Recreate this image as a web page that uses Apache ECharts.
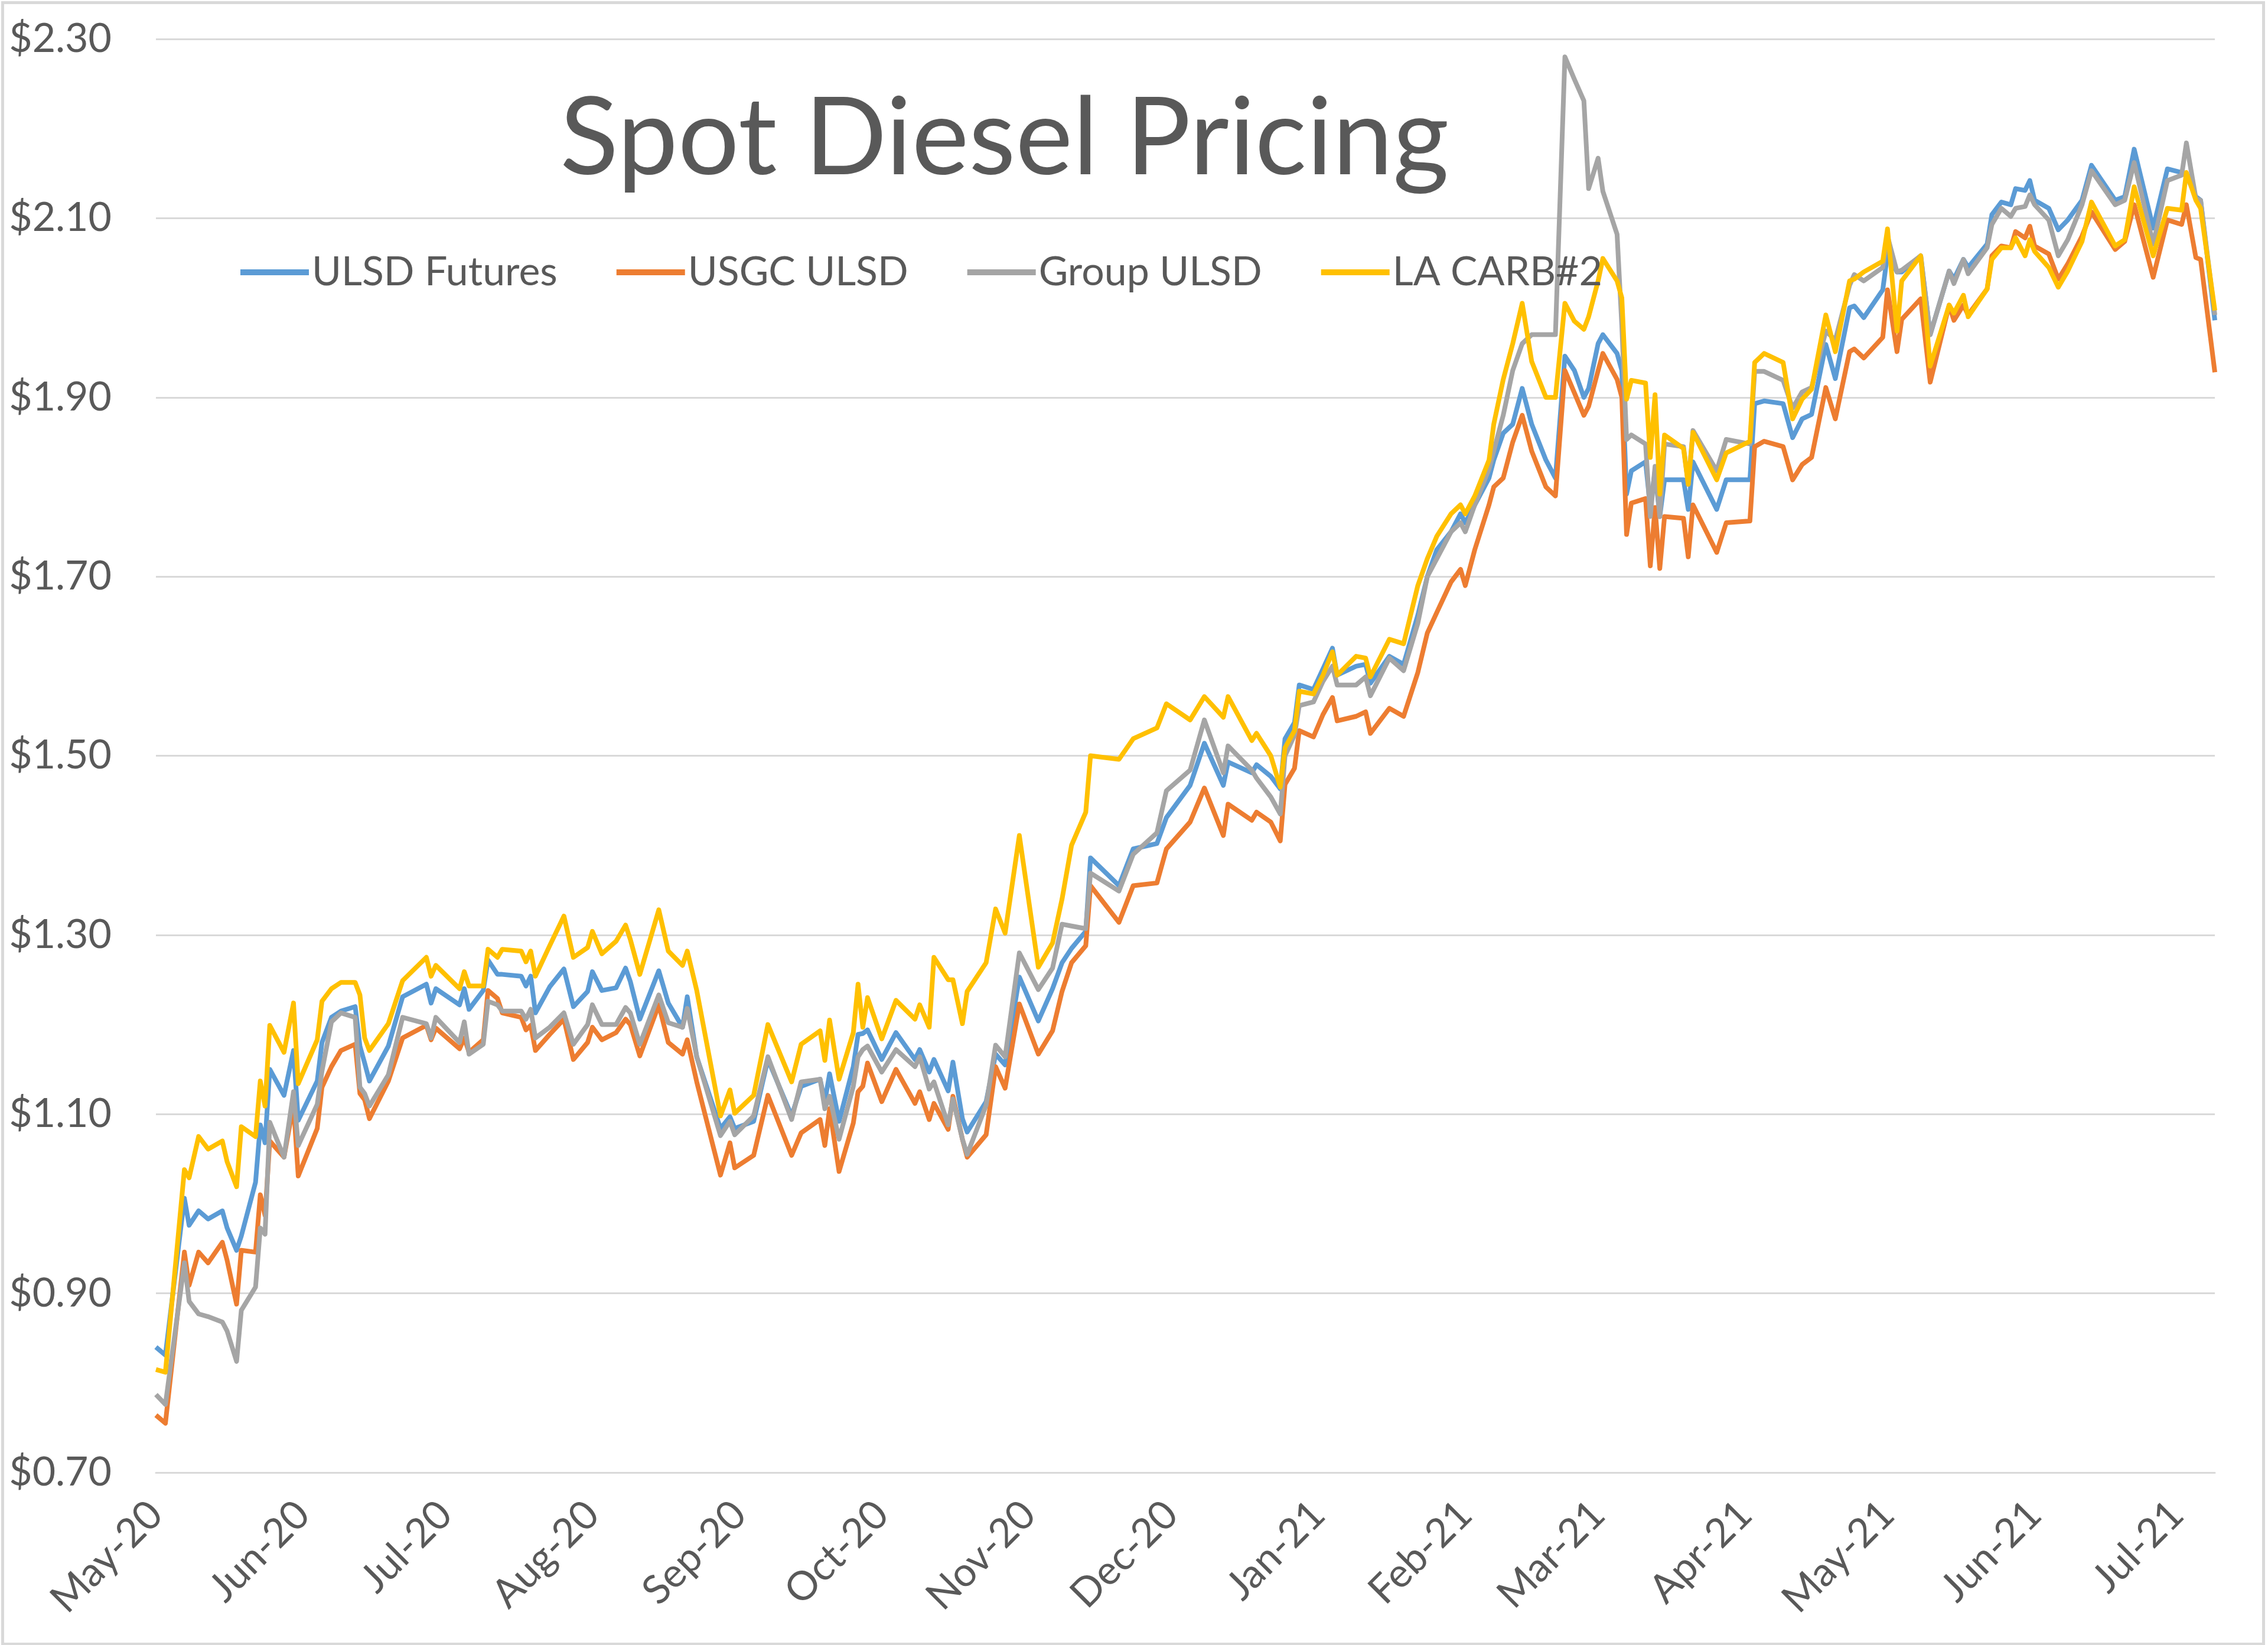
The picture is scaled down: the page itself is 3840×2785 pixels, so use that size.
<!DOCTYPE html>
<html><head><meta charset="utf-8">
<script src="https://cdn.jsdelivr.net/npm/echarts@6/dist/echarts.min.js"></script>
<style>html,body{margin:0;padding:0;background:#fff}#c{width:3840px;height:2785px}</style>
</head><body><div id="c"></div>
<script>
const dates = [
'2020-05-01','2020-05-03','2020-05-07','2020-05-08','2020-05-10','2020-05-12','2020-05-15','2020-05-16','2020-05-18','2020-05-19','2020-05-22','2020-05-23','2020-05-24','2020-05-25','2020-05-28','2020-05-30','2020-05-31','2020-06-04','2020-06-05','2020-06-07','2020-06-09','2020-06-12','2020-06-13','2020-06-14','2020-06-15','2020-06-19','2020-06-22','2020-06-27','2020-06-28','2020-06-29','2020-07-04','2020-07-05','2020-07-06','2020-07-09','2020-07-10','2020-07-12','2020-07-13','2020-07-17','2020-07-18','2020-07-19','2020-07-20',
'2020-07-23','2020-07-26','2020-07-28','2020-07-31','2020-08-01','2020-08-03','2020-08-06','2020-08-08','2020-08-09','2020-08-11','2020-08-15','2020-08-17','2020-08-20','2020-08-21','2020-08-23','2020-08-28','2020-08-30','2020-08-31','2020-09-04','2020-09-07','2020-09-12','2020-09-14','2020-09-18','2020-09-19','2020-09-20','2020-09-22','2020-09-25','2020-09-26','2020-09-27','2020-09-28','2020-10-01','2020-10-04','2020-10-08','2020-10-09','2020-10-11','2020-10-12',
'2020-10-15','2020-10-16','2020-10-18','2020-10-19','2020-10-23','2020-10-25','2020-10-27','2020-10-30','2020-11-03','2020-11-06','2020-11-08','2020-11-10','2020-11-13','2020-11-14','2020-11-20','2020-11-23','2020-11-28','2020-11-30','2020-12-05','2020-12-08','2020-12-12','2020-12-13','2020-12-18','2020-12-19','2020-12-22','2020-12-24','2020-12-25','2020-12-27','2020-12-28','2020-12-31','2021-01-02','2021-01-04','2021-01-05','2021-01-09','2021-01-11','2021-01-12','2021-01-16','2021-01-19','2021-01-22','2021-01-24','2021-01-26','2021-01-29','2021-01-31','2021-02-01','2021-02-03','2021-02-06','2021-02-07','2021-02-09','2021-02-11','2021-02-13','2021-02-15','2021-02-18','2021-02-20','2021-02-22','2021-02-24','2021-02-26','2021-02-27','2021-03-01','2021-03-02','2021-03-05','2021-03-06',
'2021-03-07','2021-03-08','2021-03-11','2021-03-12','2021-03-13','2021-03-14','2021-03-15','2021-03-19','2021-03-20','2021-03-21','2021-03-26','2021-03-28','2021-04-02','2021-04-03','2021-04-05','2021-04-09','2021-04-11','2021-04-13','2021-04-15','2021-04-18','2021-04-20','2021-04-23','2021-04-24','2021-04-26','2021-04-30','2021-05-01','2021-05-03','2021-05-04',
'2021-05-08','2021-05-10','2021-05-14','2021-05-15','2021-05-17','2021-05-18','2021-05-22','2021-05-23','2021-05-25','2021-05-27','2021-05-28','2021-05-30','2021-05-31','2021-06-01','2021-06-04','2021-06-06','2021-06-08','2021-06-11','2021-06-13','2021-06-18','2021-06-20','2021-06-22','2021-06-26','2021-06-29','2021-07-02','2021-07-03','2021-07-05','2021-07-06','2021-07-09'
];
const ulsdFutures = [
0.840,0.831,1.006,0.976,0.992,0.983,0.992,0.973,0.948,0.964,1.024,1.088,1.068,1.150,1.121,1.171,1.093,1.137,1.180,1.208,1.215,1.220,1.176,1.157,1.137,1.176,1.231,1.245,1.224,1.240,1.222,1.240,1.217,1.238,1.272,1.256,1.256,1.254,1.243,1.254,1.213,
1.242,1.262,1.220,1.237,1.259,1.238,1.241,1.263,1.248,1.206,1.260,1.224,1.197,1.231,1.164,1.084,1.097,1.084,1.092,1.161,1.098,1.131,1.139,1.114,1.145,1.092,1.153,1.189,1.190,1.194,1.161,1.191,1.161,1.172,1.147,1.161,
1.126,1.158,1.095,1.080,1.114,1.167,1.155,1.253,1.204,1.240,1.269,1.285,1.304,1.386,1.355,1.396,1.402,1.431,1.467,1.514,1.467,1.493,1.481,1.490,1.477,1.463,1.519,1.537,1.579,1.574,1.597,1.620,1.590,1.600,1.602,1.581,1.611,1.602,1.657,1.700,1.730,1.750,1.770,1.760,1.780,1.810,1.830,1.860,1.870,1.910,1.870,1.830,1.810,1.946,1.930,1.900,1.910,1.960,1.970,1.949,1.930,
1.792,1.818,1.828,1.777,1.818,1.767,1.808,1.808,1.775,1.828,1.775,1.808,1.808,1.893,1.896,1.893,1.855,1.876,1.881,1.959,1.921,2.000,2.002,1.989,2.020,2.060,2.040,2.040,
2.058,1.970,2.041,2.032,2.054,2.045,2.071,2.104,2.118,2.115,2.133,2.131,2.142,2.120,2.111,2.087,2.098,2.120,2.159,2.120,2.124,2.177,2.089,2.155,2.151,2.148,2.124,2.120,1.986
];
const usgcUlsd = [
0.764,0.755,0.946,0.909,0.946,0.934,0.957,0.937,0.888,0.948,0.946,1.010,0.987,1.070,1.052,1.111,1.031,1.084,1.130,1.153,1.171,1.178,1.123,1.116,1.095,1.137,1.185,1.199,1.183,1.196,1.173,1.185,1.169,1.183,1.238,1.229,1.213,1.208,1.194,1.199,1.171,
1.189,1.206,1.161,1.180,1.197,1.183,1.191,1.206,1.200,1.165,1.222,1.180,1.167,1.183,1.136,1.032,1.068,1.040,1.054,1.121,1.054,1.079,1.094,1.065,1.106,1.036,1.090,1.125,1.131,1.157,1.114,1.150,1.112,1.125,1.094,1.112,
1.083,1.120,1.072,1.052,1.077,1.153,1.129,1.223,1.167,1.193,1.237,1.269,1.288,1.355,1.314,1.355,1.358,1.396,1.426,1.464,1.411,1.446,1.428,1.437,1.426,1.405,1.468,1.486,1.528,1.521,1.546,1.565,1.539,1.544,1.549,1.525,1.553,1.544,1.593,1.637,1.660,1.694,1.708,1.690,1.730,1.780,1.800,1.810,1.850,1.880,1.840,1.800,1.790,1.930,1.905,1.880,1.890,1.930,1.949,1.920,1.900,
1.747,1.782,1.787,1.712,1.777,1.709,1.767,1.765,1.722,1.780,1.727,1.760,1.762,1.845,1.851,1.845,1.808,1.825,1.833,1.911,1.876,1.951,1.954,1.944,1.967,2.020,1.951,1.987,
2.010,1.917,2.003,1.986,2.003,1.992,2.021,2.058,2.069,2.067,2.085,2.078,2.091,2.069,2.060,2.032,2.049,2.080,2.107,2.065,2.074,2.115,2.034,2.098,2.093,2.115,2.056,2.054,1.928
];
const groupUlsd = [
0.787,0.776,0.934,0.891,0.877,0.874,0.868,0.858,0.824,0.881,0.907,0.973,0.966,1.091,1.052,1.125,1.065,1.111,1.148,1.203,1.213,1.208,1.130,1.123,1.109,1.144,1.208,1.201,1.185,1.208,1.180,1.203,1.167,1.178,1.226,1.222,1.215,1.215,1.206,1.217,1.185,
1.197,1.213,1.178,1.200,1.222,1.200,1.200,1.219,1.213,1.178,1.233,1.202,1.197,1.218,1.164,1.076,1.092,1.077,1.098,1.164,1.094,1.136,1.139,1.106,1.120,1.072,1.131,1.164,1.172,1.176,1.147,1.172,1.153,1.164,1.128,1.136,
1.088,1.117,1.072,1.055,1.110,1.177,1.164,1.280,1.239,1.263,1.312,1.310,1.307,1.369,1.349,1.390,1.414,1.461,1.484,1.540,1.481,1.511,1.484,1.475,1.454,1.435,1.500,1.523,1.556,1.560,1.583,1.600,1.579,1.579,1.588,1.567,1.609,1.595,1.648,1.700,1.720,1.750,1.760,1.750,1.780,1.820,1.840,1.880,1.930,1.960,1.970,1.970,1.970,2.280,2.255,2.231,2.133,2.167,2.130,2.082,1.980,
1.853,1.858,1.848,1.767,1.823,1.767,1.848,1.845,1.803,1.863,1.818,1.853,1.848,1.929,1.929,1.919,1.888,1.906,1.911,1.974,1.964,2.025,2.037,2.030,2.045,2.080,2.040,2.042,
2.058,1.970,2.041,2.027,2.054,2.038,2.067,2.093,2.111,2.102,2.111,2.113,2.126,2.115,2.098,2.058,2.076,2.115,2.153,2.115,2.120,2.162,2.071,2.142,2.148,2.184,2.122,2.120,1.992
];
const laCarb2 = [
0.815,0.812,1.038,1.029,1.075,1.061,1.070,1.047,1.019,1.086,1.075,1.137,1.109,1.199,1.169,1.224,1.134,1.183,1.226,1.240,1.247,1.247,1.233,1.185,1.171,1.201,1.249,1.275,1.254,1.266,1.240,1.259,1.243,1.243,1.284,1.275,1.284,1.282,1.270,1.282,1.254,
1.288,1.321,1.275,1.286,1.304,1.279,1.293,1.311,1.295,1.256,1.328,1.282,1.266,1.282,1.238,1.098,1.127,1.101,1.121,1.200,1.136,1.178,1.193,1.160,1.205,1.139,1.191,1.245,1.197,1.230,1.184,1.227,1.206,1.222,1.197,1.275,
1.250,1.250,1.201,1.237,1.269,1.329,1.302,1.411,1.264,1.291,1.340,1.400,1.437,1.500,1.496,1.519,1.531,1.558,1.540,1.566,1.543,1.566,1.517,1.525,1.500,1.465,1.509,1.528,1.572,1.569,1.590,1.616,1.590,1.611,1.609,1.588,1.630,1.625,1.690,1.720,1.745,1.770,1.780,1.770,1.790,1.830,1.870,1.920,1.960,2.005,1.940,1.900,1.900,2.005,1.985,1.976,1.990,2.030,2.055,2.030,2.011,
1.898,1.919,1.916,1.833,1.903,1.792,1.858,1.843,1.803,1.861,1.808,1.838,1.851,1.939,1.949,1.939,1.876,1.898,1.909,1.992,1.951,2.030,2.032,2.040,2.052,2.088,1.974,2.030,
2.058,1.935,2.003,1.994,2.014,1.990,2.021,2.054,2.067,2.067,2.078,2.058,2.076,2.063,2.045,2.023,2.041,2.074,2.118,2.069,2.076,2.135,2.058,2.111,2.109,2.151,2.120,2.111,1.997
];
const seriesNames = ['ULSD Futures','USGC ULSD','Group ULSD','LA CARB#2'];
const monthStarts = ['2020-05-01','2020-06-01','2020-07-01','2020-08-01','2020-09-01','2020-10-01','2020-11-01','2020-12-01','2021-01-01','2021-02-01','2021-03-01','2021-04-01','2021-05-01','2021-06-01','2021-07-01'];
const monthLabels = ['May-20','Jun-20','Jul-20','Aug-20','Sep-20','Oct-20','Nov-20','Dec-20','Jan-21','Feb-21','Mar-21','Apr-21','May-21','Jun-21','Jul-21'];
const yTickLabels = ['$0.70','$0.90','$1.10','$1.30','$1.50','$1.70','$1.90','$2.10','$2.30'];

function ts(s){const p=s.split('-').map(Number);return Date.UTC(p[0],p[1]-1,p[2]);}
const monthTs = monthStarts.map(ts);
const labelByTs = {};
monthTs.forEach((t,i)=>{labelByTs[t]=monthLabels[i];});

const colors = ['#5B9BD5','#ED7D31','#A5A5A5','#FFC000'];
const values = [ulsdFutures, usgcUlsd, groupUlsd, laCarb2];
const FONT = 'Lato';
const TXT = '#595959';

const chart = echarts.init(document.getElementById('c'), null, {renderer:'canvas'});
chart.setOption({
  animation:false,
  backgroundColor:'#ffffff',
  color: colors,
  title:{
    text:'Spot Diesel Pricing',
    left:943, top:139,
    textStyle:{fontFamily:FONT,fontSize:183,fontWeight:'normal',color:TXT}
  },
  legend:{
    data: seriesNames.map(n=>({name:n,icon:'rect'})),
    left:402, top:422,
    itemWidth:116, itemHeight:10, itemGap:100,
    textStyle:{fontFamily:FONT,fontSize:68,color:TXT}
  },
  grid:{left:264,right:90,top:66,bottom:292,containLabel:false},
  xAxis:{
    type:'value',
    min: ts(dates[0]), max: ts(dates[dates.length-1]),
    axisLine:{show:true,lineStyle:{color:'#D9D9D9',width:3}},
    axisTick:{show:false},
    splitLine:{show:false},
    axisLabel:{
      customValues: monthTs,
      showMinLabel:true, showMaxLabel:true,
      rotate:45, margin:60,
      fontFamily:FONT,fontSize:68,color:TXT,
      formatter:function(v){return labelByTs[v]!==undefined?labelByTs[v]:'';}
    }
  },
  yAxis:{
    type:'value', min:0.7, max:2.3, interval:0.2,
    axisLine:{show:false}, axisTick:{show:false},
    splitLine:{show:true,lineStyle:{color:'#D9D9D9',width:3}},
    axisLabel:{
      margin:75,fontFamily:FONT,fontSize:68,color:TXT,
      formatter:function(v){const i=Math.round((v-0.7)/0.2);return yTickLabels[i]!==undefined?yTickLabels[i]:'';}
    }
  },
  series: seriesNames.map((name,k)=>({
    name:name, type:'line', symbol:'none', showSymbol:false,
    lineStyle:{width:8,color:colors[k],join:'round'},
    itemStyle:{color:colors[k]},
    data: dates.map((d,i)=>[ts(d), values[k][i]])
  })),
  graphic:[{
    type:'rect', left:2, top:2, z:100, silent:true,
    shape:{x:0,y:0,width:3828,height:2779},
    style:{fill:'none',stroke:'#D9D9D9',lineWidth:5}
  }]
});
</script>
</body></html>
